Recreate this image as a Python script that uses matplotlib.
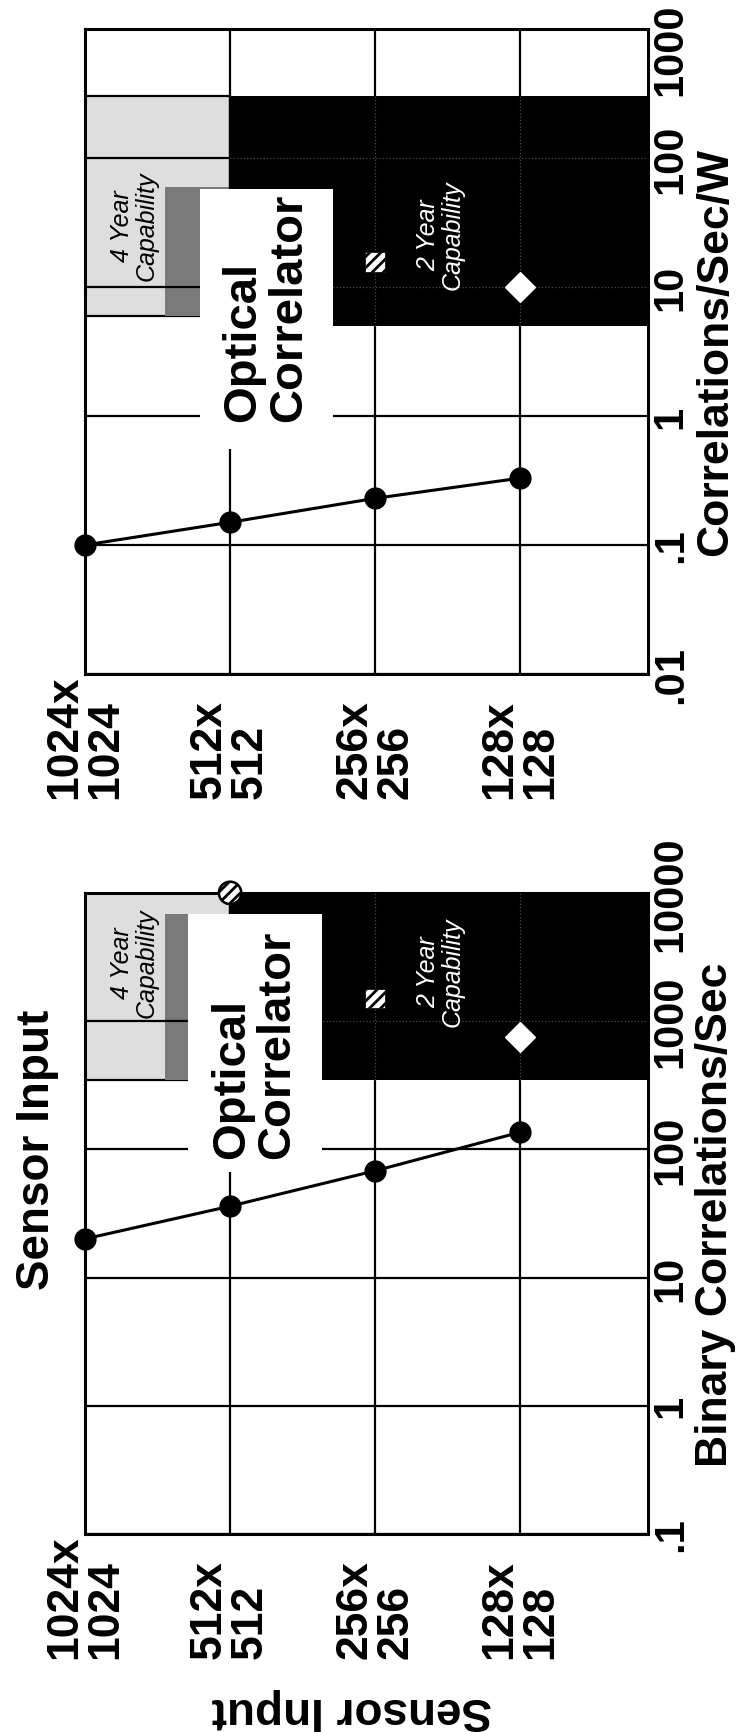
import matplotlib
matplotlib.use("Agg")
from matplotlib import pyplot as plt
from matplotlib.patches import Rectangle
from matplotlib.ticker import NullLocator

plt.rcParams['font.family'] = ['Liberation Sans', 'DejaVu Sans']
plt.rcParams['hatch.linewidth'] = 2.0

# sensor sizes along the category axis
sizes = ["1024x\n1024", "512x\n512", "256x\n256", "128x\n128"]

# binary correlations/sec panel
binary_rate = [20, 36, 68, 136]
binary_ticks = [0.1, 1, 10, 100, 1000, 10000]
binary_tick_labels = [".1", "1", "10", "100", "1000", "10000"]
binary_four_year = [350, 10000]     # low, high
binary_two_year = [350, 10000]
binary_circle = [1, 10000]          # category index, value
binary_square = [2, 1500]
binary_diamond = [3, 750]

# correlations/sec/W panel
power_rate = [0.10, 0.15, 0.23, 0.33]
power_ticks = [0.01, 0.1, 1, 10, 100, 1000]
power_tick_labels = [".01", ".1", "1", "10", "100", "1000"]
power_four_year = [6, 300]
power_two_year = [5, 300]
power_square = [2, 15.6]
power_diamond = [3, 10]

XMAX = 3.88


def draw_panel(ax, rate, ticks, tick_labels, four_year, two_year, label,
               band_top, box_y, box_x, text_y, cap_y, shift_top=False):
    ax.set_yscale('log')
    ax.set_ylim(ticks[0], ticks[-1])
    ax.set_xlim(0, XMAX)
    ax.yaxis.set_minor_locator(NullLocator())

    # grid
    ax.set_xticks(range(len(sizes)))
    ax.set_xticklabels([])
    ax.set_yticks(ticks)
    labels = list(tick_labels)
    if shift_top:
        labels[-1] = ""
    ax.set_yticklabels(labels, rotation=90, va='center',
                       fontsize=30, fontweight='bold')
    ax.yaxis.tick_right()
    ax.tick_params(axis='both', length=0)
    ax.tick_params(axis='y', pad=2)
    ax.grid(True, color='black', lw=1.6)
    ax.set_axisbelow(False)
    for s in ax.spines.values():
        s.set_linewidth(2.2)
    if shift_top:
        # top label sits a little below the corner so it stays on the page
        ax.annotate(tick_labels[-1], xy=(1, 1), xycoords='axes fraction',
                    xytext=(2, -14), textcoords='offset points', rotation=90,
                    ha='left', va='center', fontsize=30, fontweight='bold',
                    annotation_clip=False)

    ax.yaxis.set_label_position('right')
    ax.set_ylabel(label, fontsize=32, fontweight='bold', labelpad=3)

    # capability boxes
    ax.add_patch(Rectangle((0, four_year[0]), 1, four_year[1] - four_year[0],
                           facecolor='#dedede', edgecolor='black', lw=1.6,
                           zorder=1))
    ax.add_patch(Rectangle((0.55, four_year[0]), 0.45, band_top - four_year[0],
                           facecolor='#7a7a7a', edgecolor='none', zorder=1))
    ax.add_patch(Rectangle((1, two_year[0]), XMAX - 1, two_year[1] - two_year[0],
                           facecolor='black', edgecolor='none', zorder=1))
    # faint traces of the grid inside the dark area
    for t in ticks[1:-1]:
        if two_year[0] < t < two_year[1]:
            ax.plot([1, XMAX], [t, t], color='#4a4a4a', lw=0.9, ls=':',
                    zorder=2.6)
    for c in [2, 3]:
        ax.plot([c, c], two_year, color='#4a4a4a', lw=0.9, ls=':', zorder=2.6)

    # label box
    ax.add_patch(Rectangle((box_x[0], box_y[0]), box_x[1] - box_x[0],
                           box_y[1] - box_y[0], facecolor='white',
                           edgecolor='none', zorder=3))
    ax.text((box_x[0] + box_x[1]) / 2, text_y, "Optical\nCorrelator",
            rotation=90, ha='center', va='center', multialignment='left',
            fontsize=34, fontweight='bold', linespacing=1.05, zorder=5)
    ax.text(0.34, cap_y, "4 Year\nCapability", rotation=90, ha='center',
            va='center', fontsize=18, style='italic', color='black',
            linespacing=1.0, zorder=5)
    ax.text(2.45, cap_y * 0.85, "2 Year\nCapability", rotation=90, ha='center',
            va='center', fontsize=18, style='italic', color='white',
            linespacing=1.0, zorder=5)

    # data line
    ax.plot(range(len(rate)), rate, color='black', lw=2.2, marker='o',
            ms=15, zorder=6, clip_on=False)

    # category labels below the axis
    for i, lab in enumerate(sizes):
        ax.annotate(lab, xy=(i, 0), xycoords=('data', 'axes fraction'),
                    xytext=(0, -89), textcoords='offset points', rotation=90,
                    ha='center', va='bottom', multialignment='left',
                    fontsize=32, fontweight='bold', linespacing=1.0,
                    annotation_clip=False)


fig = plt.figure(figsize=(7.52, 17.33), dpi=100)
ax_top = fig.add_axes([0.1130, 0.6105, 0.7487, 0.3722])
ax_bot = fig.add_axes([0.1130, 0.1143, 0.7487, 0.3699])

draw_panel(ax_top, power_rate, power_ticks, power_tick_labels,
           power_four_year, power_two_year, "Correlations/Sec/W",
           band_top=60, box_y=[0.55, 58], box_x=[0.79, 1.71],
           text_y=7.0, cap_y=30, shift_top=True)
ax_top.scatter([power_square[0]], [power_square[1]], marker='s', s=200,
               facecolor='white', edgecolor='black', hatch='///', lw=0.5,
               zorder=7)
ax_top.scatter([power_diamond[0]], [power_diamond[1]], marker='D', s=230,
               facecolor='white', edgecolor='white', zorder=7)

draw_panel(ax_bot, binary_rate, binary_ticks, binary_tick_labels,
           binary_four_year, binary_two_year, "Binary Correlations/Sec",
           band_top=6800, box_y=[67, 6850], box_x=[0.71, 1.63],
           text_y=660, cap_y=2900)
ax_bot.scatter([binary_circle[0]], [binary_circle[1]], marker='o', s=260,
               facecolor='white', edgecolor='black', hatch='///', lw=1.8,
               zorder=7, clip_on=False)
ax_bot.scatter([binary_square[0]], [binary_square[1]], marker='s', s=200,
               facecolor='white', edgecolor='black', hatch='///', lw=0.5,
               zorder=7)
ax_bot.scatter([binary_diamond[0]], [binary_diamond[1]], marker='D', s=230,
               facecolor='white', edgecolor='white', zorder=7)

fig.text(37 / 752, 1 - 1150 / 1733, "Sensor Input", rotation=90, ha='center',
         va='center', fontsize=33, fontweight='bold')
fig.text(352 / 752, 1 - 1710 / 1733, "Sensor Input", rotation=180,
         ha='center', va='center', fontsize=33, fontweight='bold')

fig.savefig("out.png", dpi=100, facecolor='white')
